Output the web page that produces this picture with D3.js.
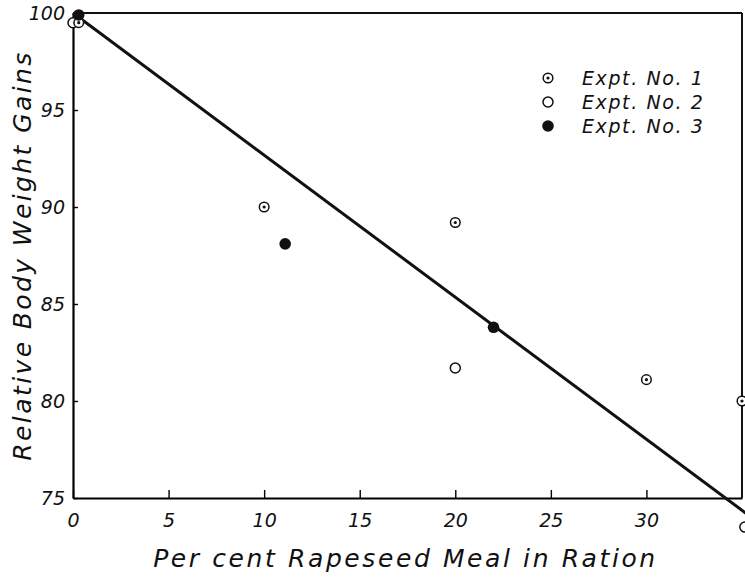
<!DOCTYPE html>
<html>
<head>
<meta charset="utf-8">
<script src="https://cdn.jsdelivr.net/npm/d3@7"></script>
<style>
  body { margin: 0; background: #fff; }
  text { font-family: "DejaVu Sans", sans-serif; font-style: italic; fill: #111; }
</style>
</head>
<body>
<div id="chart"></div>
<script>
// data
var expt1 = [[0.3, 99.5], [10, 90], [20, 89.2], [30, 81.1], [35, 80]];
var expt2 = [[0, 99.5], [20, 81.7], [35.15, 73.5]];
var expt3 = [[0.3, 99.9], [11.1, 88.1], [22, 83.8]];
var fitLine = [[0, 100], [35.5, 74]];
var xTicks = [0, 5, 10, 15, 20, 25, 30];
var yTicks = [75, 80, 85, 90, 95, 100];
var legendNames = ["Expt. No. 1", "Expt. No. 2", "Expt. No. 3"];

var W = 745, H = 577;
var margin = {top: 13, right: 3, bottom: 79, left: 73};

var svg = d3.select("#chart")
  .append("svg")
    .attr("width", W)
    .attr("height", H);

var x = d3.scaleLinear().domain([0, 35]).range([margin.left, W - margin.right]);
var y = d3.scaleLinear().domain([75, 100]).range([H - margin.bottom, margin.top]);

// axes, ticks point inward
var xAxis = svg.append("g")
  .attr("transform", "translate(0," + y(75) + ")")
  .call(d3.axisBottom(x).tickValues(xTicks).tickSizeInner(-8).tickSizeOuter(0).tickPadding(12));
xAxis.select(".domain").attr("stroke-width", 2.2);
xAxis.selectAll("line").attr("stroke-width", 1.4);
xAxis.selectAll("text")
  .style("font-size", "19px")
  .style("font-family", "'DejaVu Sans', sans-serif")
  .style("font-style", "italic")
  .attr("dy", "0.9em");

var yAxis = svg.append("g")
  .attr("transform", "translate(" + x(0) + ",0)")
  .call(d3.axisLeft(y).tickValues(yTicks).tickSizeInner(-5).tickSizeOuter(0).tickPadding(8));
yAxis.select(".domain").attr("stroke-width", 2.2);
yAxis.selectAll("line").attr("stroke-width", 1.4);
yAxis.selectAll("text")
  .style("font-size", "19px")
  .style("font-family", "'DejaVu Sans', sans-serif")
  .style("font-style", "italic");

// frame top and right
svg.append("line")
  .attr("x1", x(0)).attr("x2", x(35))
  .attr("y1", y(100)).attr("y2", y(100))
  .attr("stroke", "#111").attr("stroke-width", 2);
svg.append("line")
  .attr("x1", x(35)).attr("x2", x(35))
  .attr("y1", y(100)).attr("y2", y(75))
  .attr("stroke", "#111").attr("stroke-width", 2);

// regression line
var line = d3.line()
  .x(function(d) { return x(d[0]); })
  .y(function(d) { return y(d[1]); });
svg.append("path")
  .attr("d", line(fitLine))
  .attr("stroke", "#111")
  .attr("stroke-width", 3)
  .attr("fill", "none");

// markers
function dotted(g) {
  g.append("circle").attr("r", 4.8).attr("fill", "#fff").attr("stroke", "#111").attr("stroke-width", 1.5);
  g.append("circle").attr("r", 1.6).attr("fill", "#111");
}
function open(g) {
  g.append("circle").attr("r", 5).attr("fill", "#fff").attr("stroke", "#111").attr("stroke-width", 1.5);
}
function filled(g) {
  g.append("circle").attr("r", 5.8).attr("fill", "#111");
}

svg.selectAll("e2").data(expt2).enter().append("g")
  .attr("transform", function(d) { return "translate(" + x(d[0]) + "," + y(d[1]) + ")"; })
  .call(open);
svg.selectAll("e1").data(expt1).enter().append("g")
  .attr("transform", function(d) { return "translate(" + x(d[0]) + "," + y(d[1]) + ")"; })
  .call(dotted);
svg.selectAll("e3").data(expt3).enter().append("g")
  .attr("transform", function(d) { return "translate(" + x(d[0]) + "," + y(d[1]) + ")"; })
  .call(filled);

// legend
var markers = [dotted, open, filled];
var legend = svg.selectAll("legend").data(legendNames).enter().append("g")
  .attr("transform", function(d, i) { return "translate(548," + (78 + i * 24) + ")"; });
legend.each(function(d, i) { markers[i](d3.select(this)); });
legend.append("text")
  .attr("x", 34)
  .attr("dy", "0.36em")
  .style("font-size", "19px")
  .style("letter-spacing", "1.6px")
  .text(function(d) { return d; });

// axis titles
svg.append("text")
  .attr("transform", "translate(31," + ((y(75) + y(100)) / 2) + ") rotate(-90)")
  .attr("text-anchor", "middle")
  .style("font-size", "25px")
  .style("letter-spacing", "2.4px")
  .text("Relative Body Weight Gains");

svg.append("text")
  .attr("x", (x(0) + x(35)) / 2 - 2)
  .attr("y", 567)
  .attr("text-anchor", "middle")
  .style("font-size", "25px")
  .style("letter-spacing", "2.6px")
  .text("Per cent Rapeseed Meal in Ration");
</script>
</body>
</html>
